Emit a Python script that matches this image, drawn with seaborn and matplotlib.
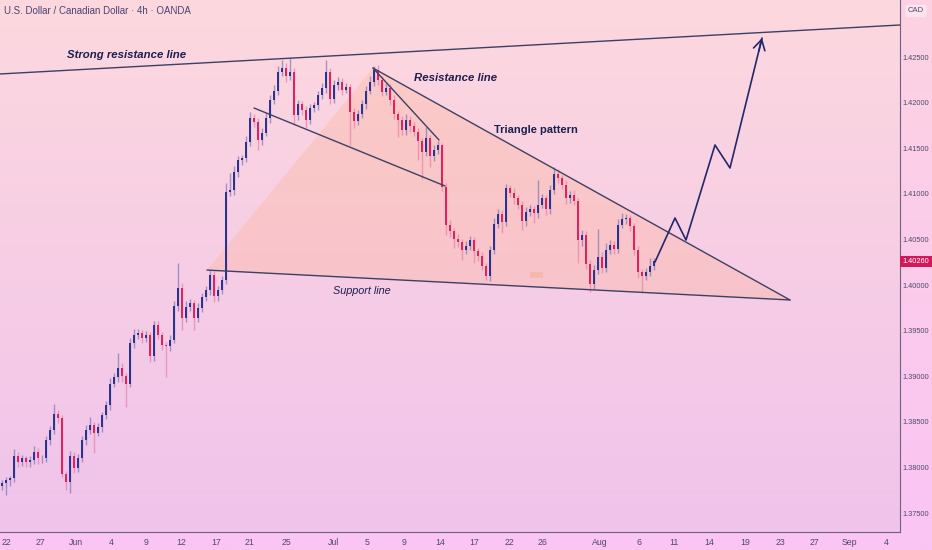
import numpy as np
import pandas as pd
import matplotlib
matplotlib.use("Agg")
import matplotlib.pyplot as plt
from matplotlib.colors import LinearSegmentedColormap
from matplotlib.patches import Polygon, Rectangle
import seaborn as sns

# ── data: USDCAD 4h candles (close) ──
first_open = 1.3780
close = [
    1.3783, 1.3786, 1.3788, 1.3812, 1.3806, 1.3810, 1.3806, 1.3808, 1.3817, 1.3810,
    1.3810, 1.3830, 1.3841, 1.3859, 1.3854, 1.3793, 1.3784, 1.3813, 1.3799, 1.3810,
    1.3830, 1.3841, 1.3846, 1.3838, 1.3844, 1.3857, 1.3868, 1.3892, 1.3899, 1.3909,
    1.3900, 1.3892, 1.3936, 1.3945, 1.3947, 1.3942, 1.3945, 1.3922, 1.3956, 1.3945,
    1.3934, 1.3933, 1.3940, 1.3977, 1.3997, 1.3964, 1.3976, 1.3980, 1.3964, 1.3975,
    1.3987, 1.3994, 1.4011, 1.3988, 1.3994, 1.4006, 1.4102, 1.4104, 1.4124, 1.4137,
    1.4139, 1.4157, 1.4183, 1.4179, 1.4159, 1.4167, 1.4183, 1.4203, 1.4213, 1.4234,
    1.4238, 1.4229, 1.4234, 1.4186, 1.4198, 1.4192, 1.4181, 1.4194, 1.4197, 1.4208,
    1.4216, 1.4234, 1.4204, 1.4219, 1.4223, 1.4214, 1.4217, 1.4190, 1.4180, 1.4187,
    1.4198, 1.4213, 1.4223, 1.4236, 1.4225, 1.4212, 1.4216, 1.4203, 1.4187, 1.4181,
    1.4170, 1.4181, 1.4174, 1.4168, 1.4158, 1.4146, 1.4161, 1.4141, 1.4148, 1.4153,
    1.4108, 1.4066, 1.4059, 1.4051, 1.4047, 1.4038, 1.4043, 1.4049, 1.4037, 1.4032,
    1.4021, 1.4010, 1.4038, 1.4067, 1.4078, 1.4069, 1.4106, 1.4101, 1.4095, 1.4088,
    1.4070, 1.4080, 1.4083, 1.4079, 1.4088, 1.4095, 1.4083, 1.4104, 1.4122, 1.4117,
    1.4110, 1.4095, 1.4099, 1.4092, 1.4049, 1.4055, 1.4023, 1.4001, 1.4016, 1.4031,
    1.4019, 1.4038, 1.4044, 1.4040, 1.4066, 1.4072, 1.4073, 1.4065, 1.4038, 1.4014,
    1.4010, 1.4014, 1.4021, 1.4026,
]
# wick lengths in pips above / below the body
wick_up = [
    3, 4, 3, 8, 5, 4, 3, 5, 6, 4,
    4, 5, 4, 11, 4, 3, 3, 5, 4, 5,
    4, 5, 9, 4, 5, 4, 5, 6, 4, 16,
    5, 4, 6, 7, 5, 4, 5, 4, 5, 4,
    4, 3, 5, 6, 27, 5, 6, 5, 4, 5,
    4, 5, 5, 4, 5, 4, 10, 19, 6, 5,
    4, 6, 7, 5, 4, 5, 6, 5, 6, 6,
    9, 5, 15, 4, 5, 4, 4, 5, 4, 5,
    5, 13, 4, 6, 5, 4, 5, 3, 4, 5,
    5, 5, 6, 4, 5, 4, 5, 4, 5, 4,
    4, 7, 4, 5, 4, 3, 12, 4, 5, 5,
    3, 4, 5, 4, 5, 4, 5, 5, 4, 4,
    4, 3, 5, 6, 5, 4, 5, 4, 5, 4,
    4, 6, 5, 4, 27, 5, 4, 6, 7, 5,
    4, 5, 4, 5, 3, 5, 4, 4, 6, 30,
    5, 8, 5, 4, 6, 7, 5, 4, 3, 5,
    4, 5, 9, 4,
]
wick_dn = [
    5, 13, 6, 4, 5, 4, 6, 5, 4, 6,
    5, 4, 5, 4, 5, 4, 9, 12, 5, 4,
    4, 5, 4, 22, 4, 5, 4, 5, 4, 5,
    6, 26, 4, 5, 4, 6, 5, 6, 5, 4,
    5, 34, 5, 4, 5, 13, 5, 4, 13, 5,
    5, 4, 5, 7, 5, 4, 5, 4, 5, 6,
    5, 4, 5, 6, 11, 5, 4, 5, 4, 5,
    5, 6, 4, 11, 5, 6, 9, 5, 4, 5,
    4, 5, 6, 4, 5, 6, 4, 36, 8, 5,
    4, 5, 4, 5, 6, 5, 4, 6, 5, 19,
    6, 5, 6, 5, 21, 30, 5, 12, 5, 4,
    5, 11, 6, 10, 5, 11, 4, 5, 13, 6,
    5, 5, 6, 4, 5, 12, 4, 5, 6, 5,
    10, 5, 4, 11, 5, 4, 6, 5, 4, 5,
    5, 6, 5, 4, 25, 6, 5, 9, 5, 4,
    6, 5, 4, 6, 5, 4, 5, 6, 5, 6,
    19, 5, 4, 4,
]

# x axis in candle index units
date_ticks = [1, 9.5, 18.4, 27.2, 36, 44.8, 53.5, 62, 71.2, 82.8, 91.2, 100.5, 109.5,
              118, 126.8, 135.2, 149.5, 159.2, 168, 176.8, 185.8, 194.5, 203.2, 211.8, 221]
date_labels = ["22", "27", "Jun", "4", "9", "12", "17", "21", "25", "Jul", "5", "9", "14",
               "17", "22", "26", "Aug", "6", "11", "14", "19", "23", "27", "Sep", "4"]
price_ticks = [1.375, 1.380, 1.385, 1.390, 1.395, 1.400, 1.405, 1.410, 1.415, 1.420, 1.425]
last_price = 1.40260

# drawn trend lines (candle index, price)
strong_res = ([-0.5, 224.5], [1.42314, 1.42851])
channel_low = ([63, 110.75], [1.41941, 1.41086])
channel_steep = ([92.75, 109.25], [1.42379, 1.41590])
tri_top = ([92.75, 197], [1.42379, 1.39836])
support = ([51.25, 197], [1.40164, 1.39836])
tri_fill = ([51.25, 92.75, 197], [1.40164, 1.42379, 1.39836])
path_x = [163.25, 168.25, 171, 178.25, 182, 190]
path_y = [1.40252, 1.40735, 1.40493, 1.41535, 1.41283, 1.42708]

# ── build OHLC ──
df = pd.DataFrame({"close": close})
df["idx"] = np.arange(len(df))
df["open"] = df["close"].shift(1).fillna(first_open)
df["high"] = df[["open", "close"]].max(axis=1) + np.array(wick_up) * 0.0001
df["low"] = df[["open", "close"]].min(axis=1) - np.array(wick_dn) * 0.0001
df["up"] = df["close"] >= df["open"]

sns.set_theme(style="white")
plt.rcParams["font.family"] = ["Liberation Sans", "DejaVu Sans"]
narrow = ["Liberation Sans Narrow", "Liberation Sans", "DejaVu Sans"]

W, H = 932, 550
fig = plt.figure(figsize=(W / 100, H / 100), dpi=100)

# whole-figure background (axis panels)
bg = fig.add_axes([0, 0, 1, 1], zorder=-1)
bg.imshow(np.linspace(0, 1, 256).reshape(-1, 1), aspect="auto", origin="lower",
          cmap=LinearSegmentedColormap.from_list("p", ["#fac4f4", "#fdd3e2"]),
          extent=(0, 1, 0, 1))
bg.set_axis_off()

ax = fig.add_axes([0, 18 / H, 900 / W, 532 / H])
x0, x1 = -0.5, 224.5
y0, y1 = 1.37292, 1.43125
ax.imshow(np.linspace(0, 1, 256).reshape(-1, 1), aspect="auto", origin="lower",
          cmap=LinearSegmentedColormap.from_list("q", ["#f0c3ec", "#fdd8de"]),
          extent=(x0, x1, y0, y1), zorder=0)

# pattern shading
ax.add_patch(Polygon(list(zip(*tri_fill)), closed=True, fc="#ffad85", ec="none",
                     alpha=0.27, zorder=1))
ax.add_patch(Rectangle((132, 1.40080), 3.25, 0.00066, fc="#f7b4a0", ec="none",
                       alpha=0.7, zorder=1))

# candles
up_c, dn_c = "#2b3390", "#e0225f"
ax.vlines(df["idx"], df["low"], df["high"],
          colors=np.where(df["up"], "#7d78b4", "#e283a8"), lw=1.0, alpha=0.7, zorder=3)
body = np.maximum((df["close"] - df["open"]).abs(), 0.00005)
ax.bar(df["idx"], body, bottom=df[["open", "close"]].min(axis=1), width=0.68,
       color=np.where(df["up"], up_c, dn_c), linewidth=0, zorder=4)

# trend lines
line_c = "#3d3f63"
for xs, ys in [strong_res, channel_low, channel_steep, tri_top, support]:
    ax.plot(xs, ys, color=line_c, lw=1.0, zorder=5, solid_capstyle="round")

# projected path + arrow
path = pd.DataFrame({"x": path_x, "y": path_y})
sns.lineplot(data=path, x="x", y="y", sort=False, color="#23286b", lw=1.2, ax=ax, zorder=6)
ax.annotate("", xy=(path_x[-1], path_y[-1]),
            xytext=(path_x[-2] + 0.9 * (path_x[-1] - path_x[-2]),
                    path_y[-2] + 0.9 * (path_y[-1] - path_y[-2])),
            arrowprops=dict(arrowstyle="->,head_length=0.6,head_width=0.35",
                            color="#23286b", lw=1.2, shrinkA=0, shrinkB=0), zorder=6)

# labels on the chart
txt_c = "#1d1f4e"
ax.text(31.25, 1.42522, "Strong resistance line", ha="center", va="center", fontsize=8.2,
        fontweight="bold", fontstyle="italic", color=txt_c, family=narrow, zorder=7)
ax.text(113.5, 1.42270, "Resistance line", ha="center", va="center", fontsize=8.2,
        fontweight="bold", fontstyle="italic", color=txt_c, family=narrow, zorder=7)
ax.text(133.5, 1.41700, "Triangle pattern", ha="center", va="center", fontsize=8,
        fontweight="bold", color=txt_c, family=narrow, zorder=7)
ax.text(90, 1.39934, "Support line", ha="center", va="center", fontsize=7.8,
        fontstyle="italic", color=txt_c, family=narrow, zorder=7)

ax.set_xlim(x0, x1)
ax.set_ylim(y0, y1)
ax.set_xlabel("")
ax.set_ylabel("")
ax.set_xticks(date_ticks, date_labels)
ax.yaxis.tick_right()
ax.set_yticks(price_ticks, [f"{p:.5f}" for p in price_ticks])
ax.tick_params(axis="y", length=0, pad=2, labelsize=5.3, labelcolor="#4e4a6a")
ax.tick_params(axis="x", length=0, pad=4, labelsize=6.3, labelcolor="#4e4a6a")
for lab in ax.get_yticklabels() + ax.get_xticklabels():
    lab.set_family(narrow)
ax.grid(False)
for s in ["left", "top"]:
    ax.spines[s].set_visible(False)
for s in ["right", "bottom"]:
    ax.spines[s].set_color("#6e6080")
    ax.spines[s].set_linewidth(0.8)

# last price tag
ax.annotate(f"{last_price:.5f}", xy=(1.003, last_price), xycoords=("axes fraction", "data"),
            ha="left", va="center", fontsize=5.3, color="white", annotation_clip=False,
            family=narrow, bbox=dict(boxstyle="square,pad=0.3", fc="#d2185d", ec="none"))

fig.text(916 / W, 1 - 11 / H, "CAD", ha="center", va="center", fontsize=5.5, color="#4e4a6a",
         family=narrow, bbox=dict(boxstyle="round,pad=0.35", fc="#fde3ee", ec="none"))
fig.text(4 / W, 1 - 11 / H, "U.S. Dollar / Canadian Dollar · 4h · OANDA", ha="left",
         va="center", fontsize=7, color="#4a4470")

fig.savefig("out.png", dpi=100)
